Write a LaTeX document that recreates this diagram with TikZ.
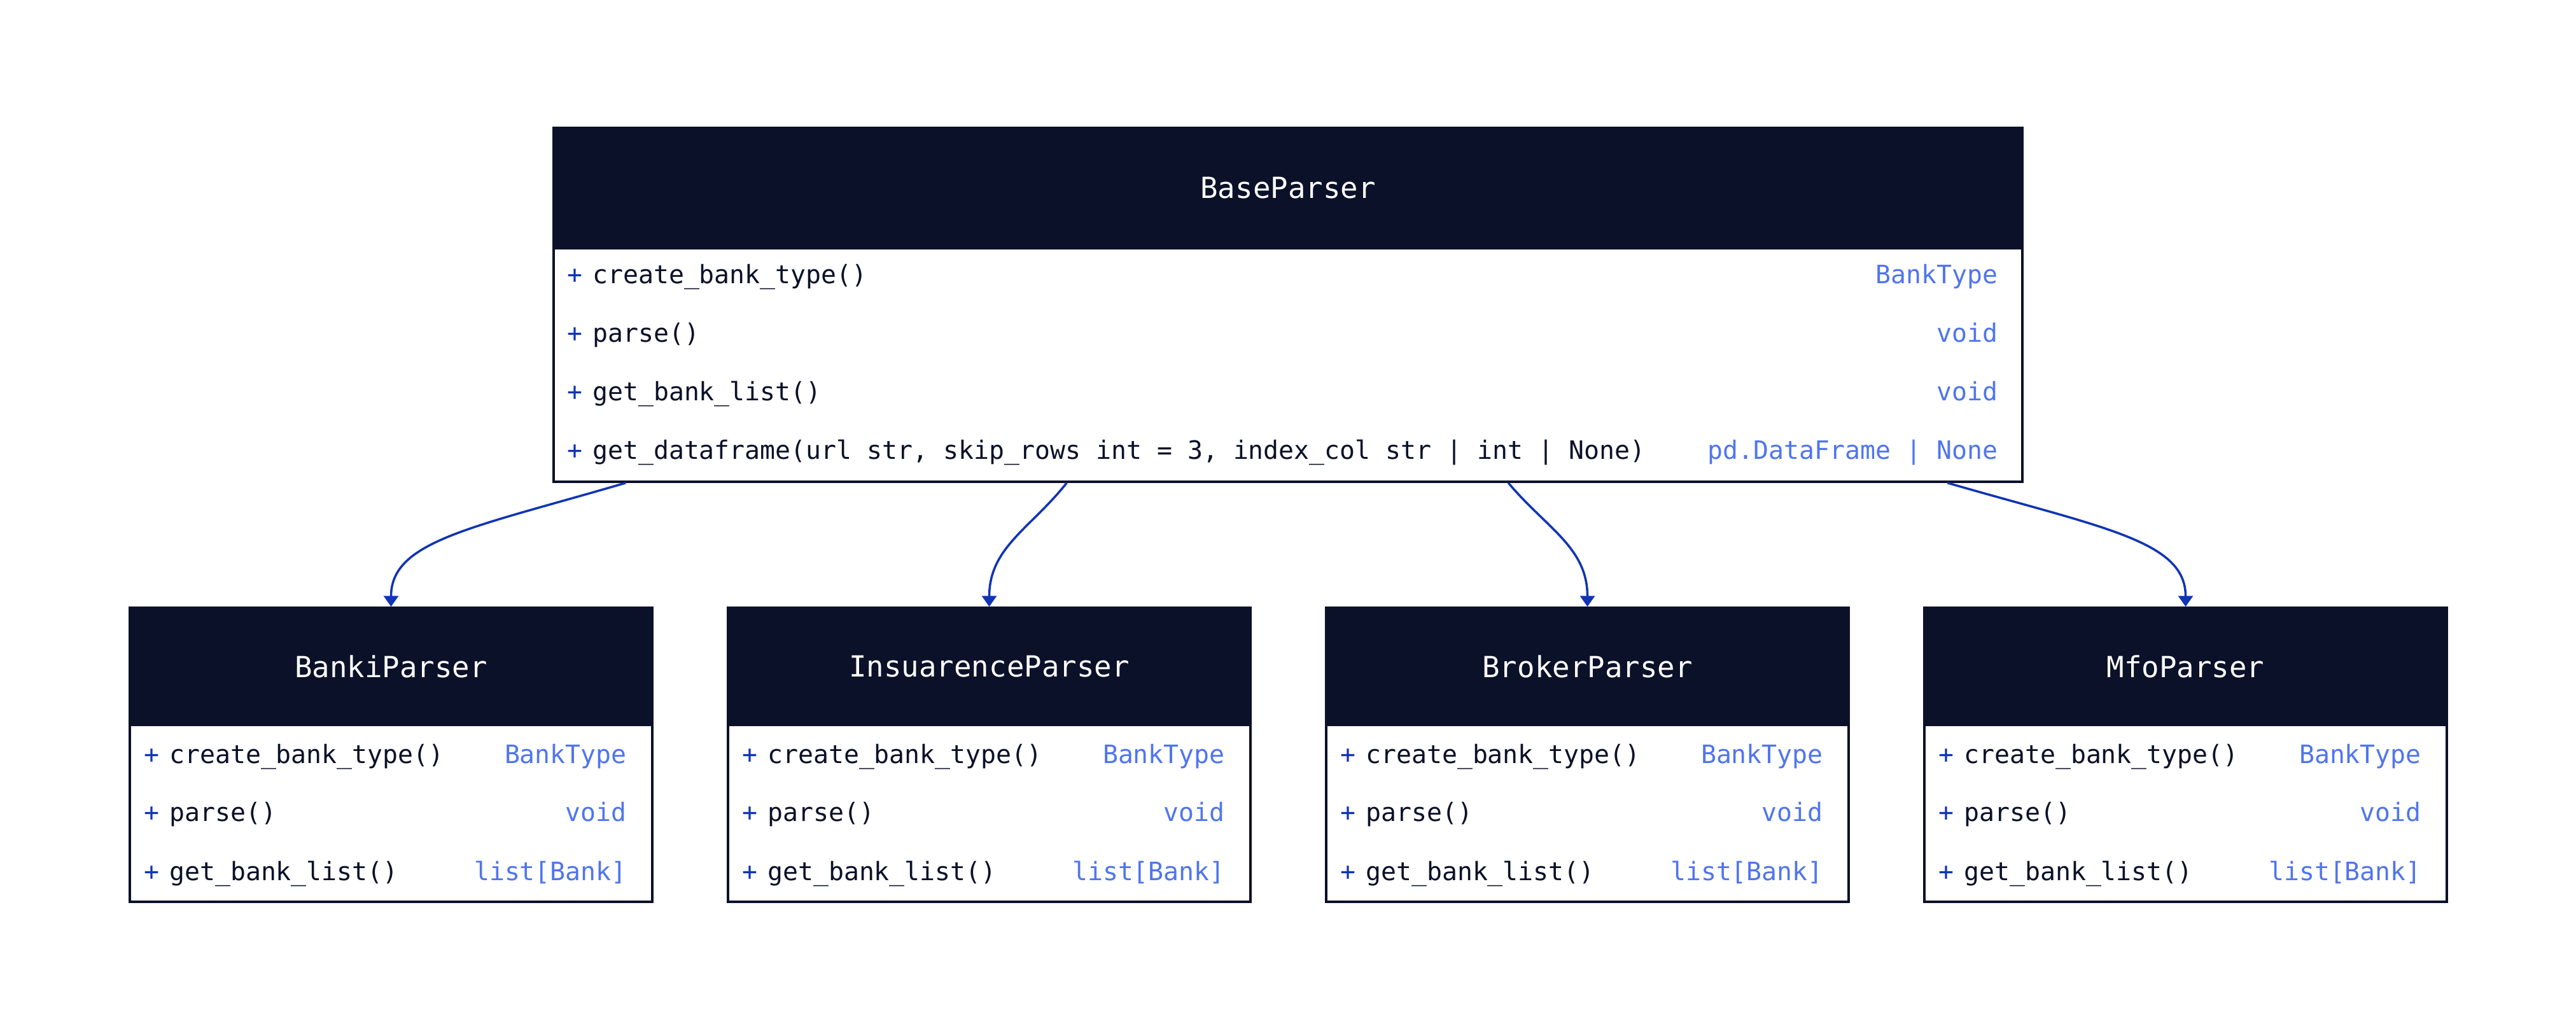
\documentclass[tikz,border=0pt]{standalone}
\usepackage{fontspec}
\setmonofont{DejaVu Sans Mono}
\usetikzlibrary{arrows.meta}
\definecolor{hdr}{HTML}{0B1128}
\definecolor{edge}{HTML}{1034B5}
\definecolor{ret}{HTML}{5075EE}
\newcommand\rowfont{\ttfamily\fontsize{11.33}{13}\selectfont}
\newcommand\hdrfont{\ttfamily\fontsize{13}{15}\selectfont}
\newcommand\pub{{\color{edge}+}\hspace{0.155cm}}

\begin{document}
\begin{tikzpicture}[y=-1cm,
    header/.style={draw=hdr, fill=hdr, line width=1pt, text=white, font=\hdrfont, inner sep=0},
    body/.style={draw=hdr, line width=1pt, fill=white, inner sep=0},
    meth/.style={anchor=west, inner sep=0, font=\rowfont, text=hdr, text height=0.72em, text depth=0.2em},
    rtype/.style={anchor=east, inner sep=0, font=\rowfont, text=ret, text height=0.72em, text depth=0.2em},
    inh/.style={draw=edge, line width=1pt, -{Triangle[length=0.17cm, width=0.23cm]}}]
    \useasboundingbox (0,0) rectangle (40.48,16.20);
    % base class
    \node[header, minimum width=23.08cm, minimum height=1.89cm] (base) at (20.24,2.955) {BaseParser};
    \node[body, minimum width=23.08cm, minimum height=3.67cm] (basebody) at (20.24,5.735) {};
    \node[meth] (base-m1) at (8.91,4.36) {\pub create\_bank\_type()};
    \node[meth] (base-m2) at (8.91,5.28) {\pub parse()};
    \node[meth] (base-m3) at (8.91,6.20) {\pub get\_bank\_list()};
    \node[meth] (base-m4) at (8.91,7.12) {\pub get\_dataframe(url str, skip\_rows int = 3, index\_col str | int | None)};
    \node[rtype] (base-t1) at (31.40,4.36) {BankType};
    \node[rtype] (base-t2) at (31.40,5.28) {void};
    \node[rtype] (base-t3) at (31.40,6.20) {void};
    \node[rtype] (base-t4) at (31.40,7.12) {pd.DataFrame | None};
    % subclasses
    \foreach \name/\title/\cx in {banki/BankiParser/6.145, insurance/InsuarenceParser/15.545,
        broker/BrokerParser/24.945, mfo/MfoParser/34.345} {
        \node[header, minimum width=8.21cm, minimum height=1.84cm] (\name) at (\cx,10.47) {\title};
        \node[body, minimum width=8.21cm, minimum height=2.78cm] (\name-body) at (\cx,12.78) {};
        \node[meth] (\name-m1) at ({\cx-3.885},11.90) {\pub create\_bank\_type()};
        \node[meth] (\name-m2) at ({\cx-3.885},12.81) {\pub parse()};
        \node[meth] (\name-m3) at ({\cx-3.885},13.74) {\pub get\_bank\_list()};
        \node[rtype] (\name-t1) at ({\cx+3.71},11.90) {BankType};
        \node[rtype] (\name-t2) at ({\cx+3.71},12.81) {void};
        \node[rtype] (\name-t3) at ({\cx+3.71},13.74) {list[Bank]};
    }
    \draw[inh] ([xshift=1.15cm]basebody.south west) .. controls (7.40,8.30) and (6.145,8.50) .. (banki.north);
    \draw[inh] ([xshift=8.08cm]basebody.south west) .. controls (16.20,8.30) and (15.545,8.60) .. (insurance.north);
    \draw[inh] ([xshift=15.02cm]basebody.south west) .. controls (24.30,8.30) and (24.945,8.60) .. (broker.north);
    \draw[inh] ([xshift=21.92cm]basebody.south west) .. controls (33.07,8.30) and (34.345,8.50) .. (mfo.north);
\end{tikzpicture}
\end{document}
